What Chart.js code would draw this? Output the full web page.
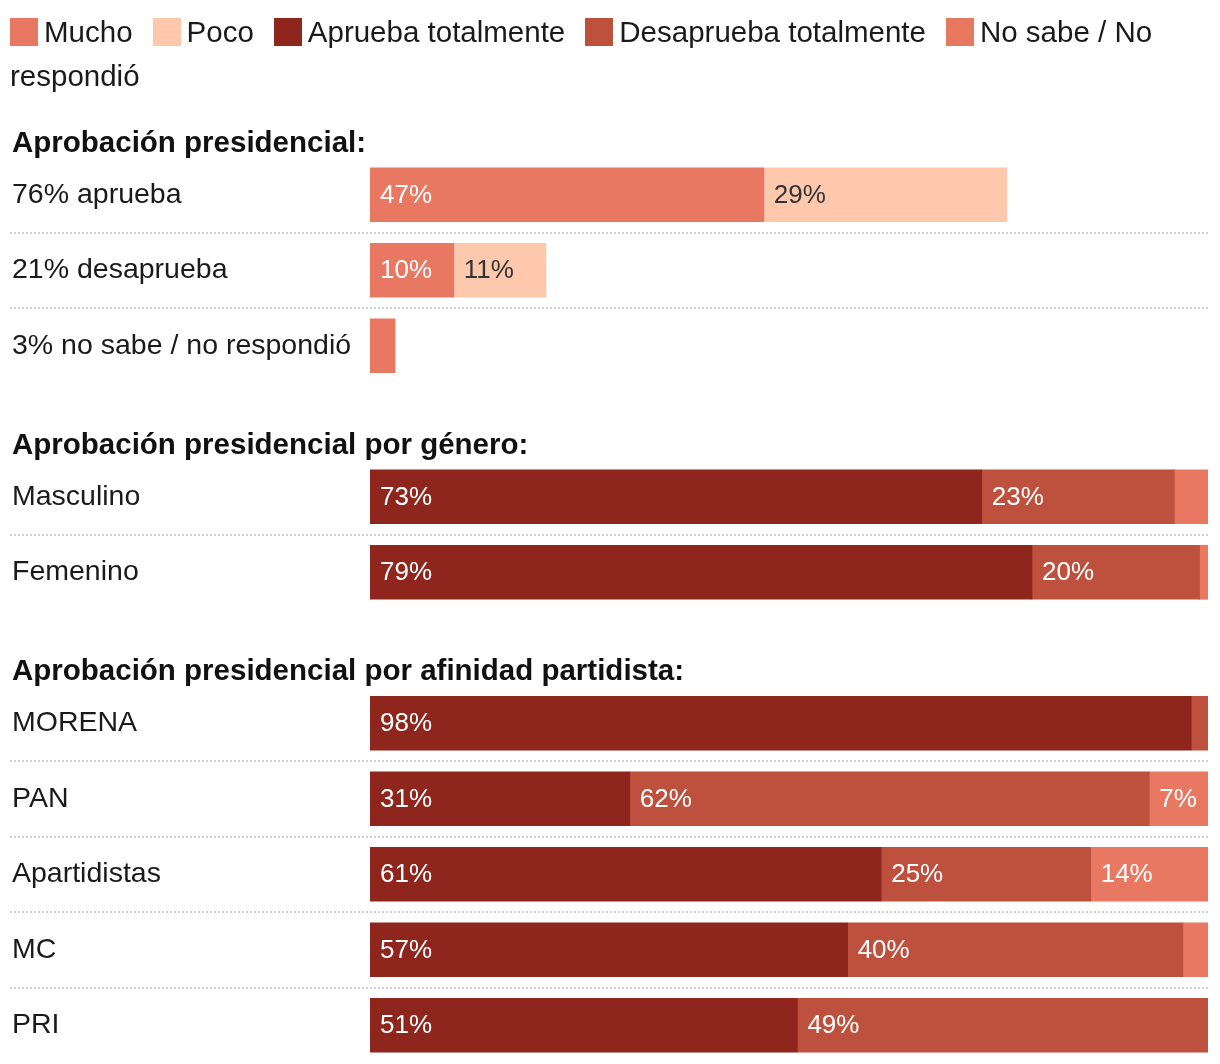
<!DOCTYPE html>
<html>
<head>
<meta charset="utf-8">
<script src="https://cdn.jsdelivr.net/npm/chart.js@4"></script>
<style>
    body { margin: 0; background: #fff; }
    #wrap { position: relative; width: 1220px; height: 1064px; overflow: hidden; }
    #legenda {
        position: absolute; left: 10px; top: 10px; width: 1200px;
        font-family: "Liberation Sans", Arial, sans-serif; font-size: 29.5px;
        line-height: 44px; color: #1a1a1a;
    }
    #legenda .item { margin-right: 20px; }
    #legenda .cor {
        display: inline-block; width: 28px; height: 28px;
        vertical-align: -4px; margin-right: 6px;
    }
    #grafico { position: absolute; left: 0; top: 0; width: 1220px; height: 1064px; }
</style>
</head>
<body>
<div id="wrap">
    <div id="grafico"><canvas id="chart"></canvas></div>
    <div id="legenda"></div>
</div>
<script>
// rows, with empty slots where a new section starts
var rowLabels = ["76% aprueba", "21% desaprueba", "3% no sabe / no respondió", "",
    "Masculino", "Femenino", "",
    "MORENA", "PAN", "Apartidistas", "MC", "PRI"];

var sectionTitles = ["Aprobación presidencial:",
    "Aprobación presidencial por género:",
    "Aprobación presidencial por afinidad partidista:"];
var sectionFirstRow = [0, 4, 7];

var seriesNames = ["Mucho", "Poco", "Aprueba totalmente", "Desaprueba totalmente", "No sabe / No respondió"];
var seriesColors = ["#e97862", "#fec8ad", "#8e261d", "#bd513e", "#e97862"];

var mucho      = [47, 10, null, null, null, null, null, null, null, null, null, null];
var poco       = [29, 11, null, null, null, null, null, null, null, null, null, null];
var aprueba    = [null, null, null, null, 73, 79, null, 98, 31, 61, 57, 51];
var desaprueba = [null, null, null, null, 23, 20, null, 2, 62, 25, 40, 49];
var noSabe     = [null, null, 3, null, 4, 1, null, null, 7, 14, 3, null];

var fonte = '"Liberation Sans", Arial, sans-serif';

// legend as plain inline text so the last label wraps like the original
var leg = document.getElementById("legenda");
for (var i = 0; i < seriesNames.length; i++) {
    var s = document.createElement("span");
    s.className = "item";
    s.innerHTML = '<span class="cor" style="background:' + seriesColors[i] + '"></span>' + seriesNames[i];
    leg.appendChild(s);
}

var rotulos = {
    id: "rotulos",
    beforeDatasetsDraw: function (chart) {
        var c = chart.ctx;
        var y = chart.scales.y;
        // dotted separators between rows of the same section
        c.save();
        c.strokeStyle = "#d2d2d2";
        c.lineWidth = 2;
        c.setLineDash([2, 2]);
        for (var i = 0; i < rowLabels.length - 1; i++) {
            if (rowLabels[i] && rowLabels[i + 1]) {
                var py = Math.round((y.getPixelForValue(i) + y.getPixelForValue(i + 1)) / 2);
                c.beginPath();
                c.moveTo(10, py);
                c.lineTo(chart.chartArea.right, py);
                c.stroke();
            }
        }
        c.restore();
    },
    afterDatasetsDraw: function (chart) {
        var c = chart.ctx;
        var y = chart.scales.y;
        c.save();
        c.textBaseline = "middle";
        c.textAlign = "left";
        // section titles
        c.font = "bold 29.5px " + fonte;
        c.fillStyle = "#111";
        for (var i = 0; i < sectionTitles.length; i++) {
            c.fillText(sectionTitles[i], 12, y.getPixelForValue(sectionFirstRow[i]) - 51);
        }
        // values inside bars
        c.font = "26px " + fonte;
        chart.data.datasets.forEach(function (ds, d) {
            var meta = chart.getDatasetMeta(d);
            meta.data.forEach(function (bar, k) {
                var v = ds.data[k];
                if (v == null || v < 5) return;
                c.fillStyle = d == 1 ? "#333" : "#fff";
                c.fillText(v + "%", Math.min(bar.base, bar.x) + 10, bar.y + 1);
            });
        });
        c.restore();
    }
};

var series = [mucho, poco, aprueba, desaprueba, noSabe];
var datasets = [];
for (var i = 0; i < series.length; i++) {
    datasets.push({
        label: seriesNames[i],
        data: series[i],
        backgroundColor: seriesColors[i],
        borderWidth: 0,
        barThickness: 54
    });
}

new Chart(document.getElementById("chart"), {
    type: "bar",
    data: { labels: rowLabels, datasets: datasets },
    plugins: [rotulos],
    options: {
        indexAxis: "y",
        responsive: true,
        maintainAspectRatio: false,
        animation: false,
        layout: { padding: { top: 157, bottom: 1, left: 12, right: 12 } },
        plugins: { legend: { display: false }, tooltip: { enabled: false } },
        scales: {
            x: { stacked: true, min: 0, max: 100, display: false },
            y: {
                stacked: true,
                grid: { display: false },
                border: { display: false },
                afterFit: function (scale) {
                    scale.width = 358;
                    scale.paddingTop = 0;
                    scale.paddingBottom = 0;
                },
                ticks: {
                    autoSkip: false,
                    crossAlign: "far",
                    color: "#1a1a1a",
                    font: { family: fonte, size: 28.5 }
                }
            }
        }
    }
});
</script>
</body>
</html>
